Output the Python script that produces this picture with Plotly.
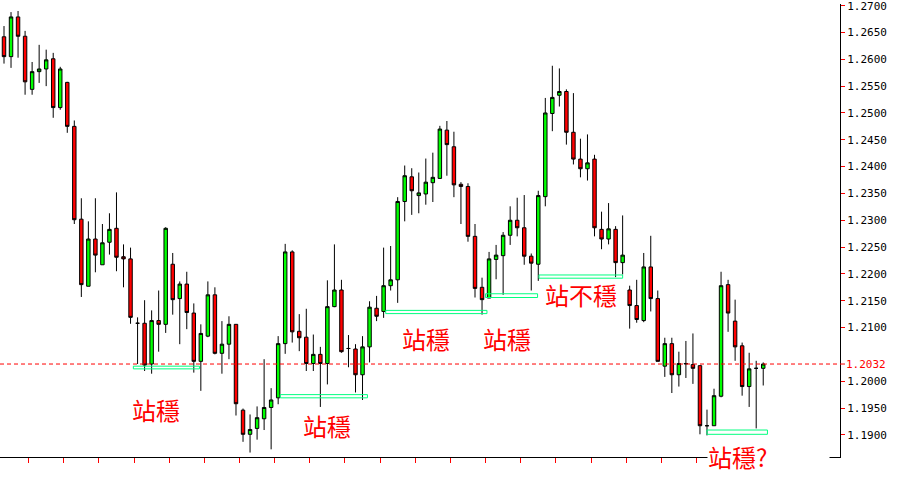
import plotly.graph_objects as go

# ---- candle data ----
opens = [1.2642, 1.2605, 1.2679, 1.2643, 1.2544, 1.2577, 1.2582, 1.2601, 1.2510, 1.2557,
         1.2475, 1.2302, 1.2177, 1.2265, 1.2217, 1.2259, 1.2285, 1.2232, 1.2228, 1.2108,
         1.2108, 1.2032, 1.2113, 1.2106, 1.2218, 1.2154, 1.2181, 1.2127, 1.2037, 1.2084,
         1.2161, 1.2052, 1.2069, 1.2106, 1.1946, 1.1901, 1.1912, 1.1930, 1.1951, 1.1969,
         1.2070, 1.2241, 1.2093, 1.2082, 1.2033, 1.2050, 1.2033, 1.2139, 1.2170, 1.2061,
         1.2060, 1.2012, 1.2064, 1.2136, 1.2130, 1.2178, 1.2189, 1.2335, 1.2381, 1.2346,
         1.2349, 1.2370, 1.2378, 1.2468, 1.2437, 1.2367, 1.2363, 1.2270, 1.2175, 1.2155,
         1.2227, 1.2234, 1.2272, 1.2300, 1.2286, 1.2233, 1.2218, 1.2344, 1.2499, 1.2533,
         1.2540, 1.2464, 1.2414, 1.2396, 1.2414, 1.2283, 1.2265, 1.2283, 1.2221, 1.2170,
         1.2141, 1.2113, 1.2213, 1.2154, 1.2028, 1.2070, 1.2012, 1.2032, 1.2031, 1.2029,
         1.1917, 1.1917, 1.1972, 1.2180, 1.2112, 1.2066, 1.1990, 1.2024, 1.2024]
highs = [1.2662, 1.2688, 1.2690, 1.2653, 1.2595, 1.2627, 1.2618, 1.2612, 1.2586, 1.2558,
         1.2486, 1.2341, 1.2298, 1.2341, 1.2293, 1.2313, 1.2352, 1.2255, 1.2249, 1.2119,
         1.2151, 1.2132, 1.2169, 1.2287, 1.2239, 1.2186, 1.2204, 1.2145, 1.2106, 1.2186,
         1.2175, 1.2112, 1.2121, 1.2106, 1.1949, 1.1938, 1.1953, 1.2041, 1.1987, 1.2084,
         1.2256, 1.2244, 1.2125, 1.2135, 1.2087, 1.2064, 1.2188, 1.2255, 1.2189, 1.2086,
         1.2069, 1.2084, 1.2149, 1.2159, 1.2249, 1.2252, 1.2343, 1.2402, 1.2397, 1.2389,
         1.2415, 1.2426, 1.2476, 1.2485, 1.2465, 1.2371, 1.2369, 1.2293, 1.2193, 1.2241,
         1.2254, 1.2278, 1.2326, 1.2342, 1.2347, 1.2238, 1.2355, 1.2528, 1.2588, 1.2583,
         1.2544, 1.2537, 1.2452, 1.2460, 1.2422, 1.2316, 1.2332, 1.2289, 1.2309, 1.2178,
         1.2189, 1.2239, 1.2271, 1.2169, 1.2081, 1.2081, 1.2055, 1.2075, 1.2089, 1.2029,
         1.1947, 1.1986, 1.2204, 1.2189, 1.2152, 1.2072, 1.2053, 1.2038, 1.2035]
lows = [1.2592, 1.2584, 1.2603, 1.2534, 1.2534, 1.2556, 1.2550, 1.2491, 1.2506, 1.2463,
        1.2293, 1.2157, 1.2177, 1.2203, 1.2217, 1.2236, 1.2205, 1.2175, 1.2107, 1.2032,
        1.2019, 1.2014, 1.2055, 1.2090, 1.2124, 1.2069, 1.2097, 1.2016, 1.1982, 1.2082,
        1.2050, 1.2014, 1.2041, 1.1936, 1.1887, 1.1867, 1.1891, 1.1909, 1.1873, 1.1957,
        1.2051, 1.2072, 1.2056, 1.2019, 1.2019, 1.1952, 1.1994, 1.2138, 1.2053, 1.2026,
        1.1979, 1.1965, 1.2035, 1.2112, 1.2118, 1.2169, 1.2146, 1.2298, 1.2310, 1.2313,
        1.2329, 1.2334, 1.2377, 1.2383, 1.2343, 1.2293, 1.2260, 1.2156, 1.2124, 1.2155,
        1.2190, 1.2161, 1.2254, 1.2270, 1.2217, 1.2169, 1.2187, 1.2326, 1.2466, 1.2512,
        1.2441, 1.2404, 1.2380, 1.2374, 1.2270, 1.2246, 1.2255, 1.2194, 1.2199, 1.2098,
        1.2109, 1.2110, 1.2130, 1.2037, 1.2008, 1.1978, 1.1990, 1.2006, 1.1995, 1.1901,
        1.1899, 1.1917, 1.1970, 1.2092, 1.2038, 1.1973, 1.1952, 1.1912, 1.1992]
closes = [1.2605, 1.2679, 1.2643, 1.2558, 1.2577, 1.2582, 1.2599, 1.2510, 1.2582, 1.2475,
          1.2301, 1.2180, 1.2265, 1.2235, 1.2258, 1.2283, 1.2231, 1.2228, 1.2119, 1.2108,
          1.2030, 1.2113, 1.2106, 1.2285, 1.2152, 1.2181, 1.2128, 1.2037, 1.2089, 1.2161,
          1.2052, 1.2069, 1.2106, 1.1958, 1.1901, 1.1910, 1.1932, 1.1951, 1.1965, 1.2070,
          1.2241, 1.2092, 1.2081, 1.2033, 1.2050, 1.2033, 1.2139, 1.2170, 1.2055, 1.2061,
          1.2012, 1.2064, 1.2138, 1.2121, 1.2178, 1.2189, 1.2335, 1.2383, 1.2355, 1.2351,
          1.2371, 1.2380, 1.2470, 1.2441, 1.2366, 1.2363, 1.2270, 1.2173, 1.2152, 1.2228,
          1.2235, 1.2272, 1.2300, 1.2286, 1.2233, 1.2220, 1.2346, 1.2500, 1.2529, 1.2540,
          1.2464, 1.2414, 1.2396, 1.2407, 1.2286, 1.2265, 1.2284, 1.2221, 1.2235, 1.2141,
          1.2115, 1.2213, 1.2154, 1.2037, 1.2070, 1.2012, 1.2033, 1.2033, 1.2024, 1.1917,
          1.1917, 1.1973, 1.2178, 1.2127, 1.2064, 1.1990, 1.2023, 1.2024, 1.2032]
bars = list(range(len(opens)))

# support zones (bar index span, price band)
support_start = [18.4, 39.3, 54.3, 68.5, 76.1, 100.0]
support_end = [27.8, 51.7, 68.7, 75.9, 88.0, 108.6]
support_low = [1.2023, 1.1969, 1.2126, 1.2156, 1.2192, 1.1901]
support_high = [1.2028, 1.1975, 1.2132, 1.2163, 1.2198, 1.1909]

# text labels
label_text = ["站穩", "站穩", "站穩", "站穩", "站不穩"]
label_bar = [21.55, 46.0, 60.0, 71.5, 82.05]
label_price = [1.1948, 1.1918, 1.2080, 1.2080, 1.2161]
last_label = "站穩?"
current_price = 1.2032

y_tick_vals = [1.1900, 1.1950, 1.2000, 1.2100, 1.2150, 1.2200, 1.2250, 1.2300, 1.2350,
               1.2400, 1.2450, 1.2500, 1.2550, 1.2600, 1.2650, 1.2700]
y_tick_text = [f"{v:.4f}" for v in y_tick_vals]
x_tick_vals = [3.5 + 5 * k for k in range(23)]

RED = "#FF0000"
GREEN = "#00FF00"
ZONE = "#00FF7F"
CJK = "Noto Sans CJK TC"
MONO = "DejaVu Sans Mono"

fig = go.Figure(go.Candlestick(
    x=bars, open=opens, high=highs, low=lows, close=closes,
    increasing=dict(line=dict(color="black", width=1), fillcolor=GREEN),
    decreasing=dict(line=dict(color="black", width=1), fillcolor=RED),
    whiskerwidth=0, hoverinfo="skip",
))

shapes = []
for x0, x1, y0, y1 in zip(support_start, support_end, support_low, support_high):
    shapes.append(dict(type="rect", xref="x", yref="y", x0=x0, x1=x1, y0=y0, y1=y1,
                       line=dict(color=ZONE, width=1), fillcolor="rgba(0,0,0,0)", layer="above"))
shapes.append(dict(type="line", xref="paper", yref="y", x0=0, x1=1, y0=current_price, y1=current_price,
                   line=dict(color=RED, width=1, dash="4px,3px"), layer="above"))
shapes.append(dict(type="line", xref="paper", yref="y", x0=1, x1=1 + 5 / 840, y0=current_price, y1=current_price,
                   line=dict(color=RED, width=1), layer="above"))

annotations = []
for t, bx, py in zip(label_text, label_bar, label_price):
    annotations.append(dict(x=bx, y=py, xref="x", yref="y", text=t, showarrow=False,
                            font=dict(family=CJK, size=24, color=RED)))
annotations.append(dict(x=707 / 840, y=0, xref="paper", yref="paper", xanchor="left", yanchor="middle",
                        yshift=1, text=last_label, showarrow=False, bgcolor="white", width=121,
                        align="left", borderpad=0, font=dict(family=CJK, size=24, color=RED)))
annotations.append(dict(x=1, y=current_price, xref="paper", yref="y", xanchor="left", xshift=4,
                        text=f"{current_price:.4f}", showarrow=False,
                        font=dict(family=MONO, size=11, color=RED)))

fig.update_layout(
    width=901, height=497,
    margin=dict(l=0, r=61, t=0, b=40),
    paper_bgcolor="white", plot_bgcolor="white",
    showlegend=False,
    shapes=shapes, annotations=annotations,
    xaxis=dict(range=[-0.569, 118.92], rangeslider=dict(visible=False), showgrid=False, zeroline=False,
               showline=True, linecolor="black", linewidth=1, tickmode="array", tickvals=x_tick_vals,
               ticks="outside", ticklen=5, tickwidth=1, tickcolor=RED, showticklabels=False, fixedrange=True),
    yaxis=dict(side="right", range=[1.18587, 1.27031], showgrid=False, zeroline=False,
               showline=True, linecolor="black", linewidth=1, tickmode="array",
               tickvals=y_tick_vals, ticktext=y_tick_text, ticks="outside", ticklen=4, tickwidth=1,
               tickcolor=RED, ticklabeloverflow="allow",
               tickfont=dict(family=MONO, size=11, color="black"), fixedrange=True),
)

fig.write_html("out.html", config={"displayModeBar": False},
               post_script="document.body.style.margin='0px';document.body.style.overflow='hidden';")
